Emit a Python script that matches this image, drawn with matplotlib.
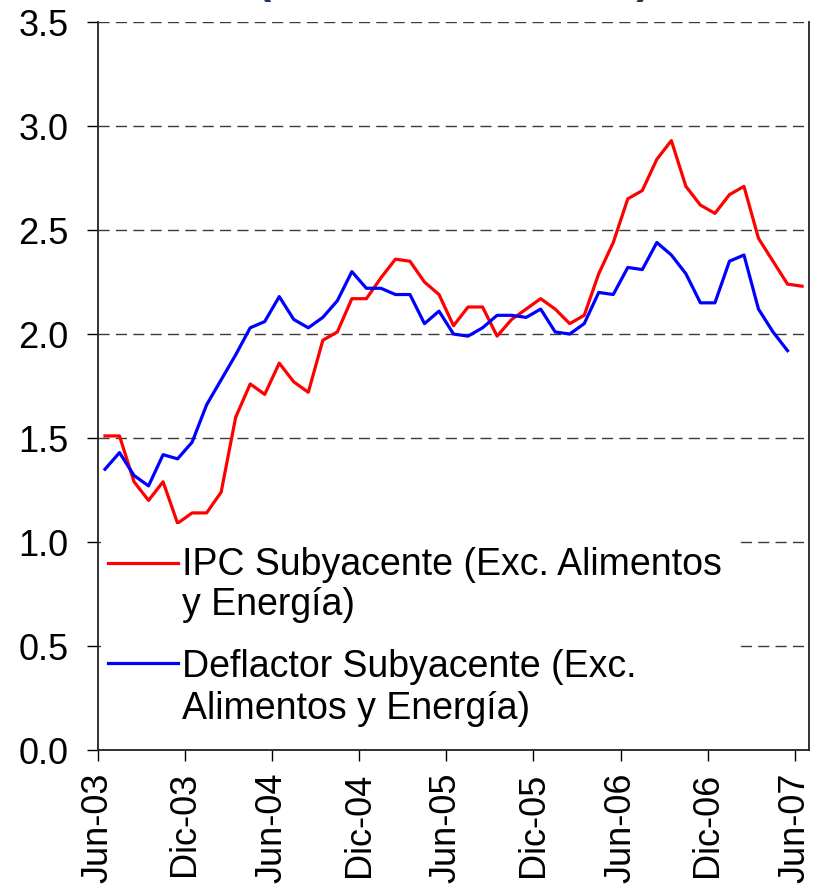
import numpy as np
import matplotlib
matplotlib.use("Agg")
import matplotlib.pyplot as plt

plt.rcParams['font.family'] = ['Liberation Sans', 'DejaVu Sans']

# monthly data, Jun-03 .. Jun-07
ipc = [1.51, 1.51, 1.29, 1.20, 1.29, 1.09, 1.14, 1.14, 1.24, 1.60, 1.76, 1.71, 1.86,
       1.77, 1.72, 1.97, 2.01, 2.17, 2.17, 2.27, 2.36, 2.35, 2.25, 2.19, 2.04,
       2.13, 2.13, 1.99, 2.07, 2.12, 2.17, 2.12, 2.05, 2.09, 2.29, 2.44,
       2.65, 2.69, 2.84, 2.93, 2.71, 2.62, 2.58, 2.67, 2.71, 2.46, 2.35, 2.24, 2.23]
deflactor = [1.35, 1.43, 1.32, 1.27, 1.42, 1.40, 1.48, 1.66, 1.78, 1.90, 2.03, 2.06, 2.18,
             2.07, 2.03, 2.08, 2.16, 2.30, 2.22, 2.22, 2.19, 2.19, 2.05, 2.11, 2.00, 1.99,
             2.03, 2.09, 2.09, 2.08, 2.12, 2.01, 2.00, 2.05, 2.20, 2.19,
             2.32, 2.31, 2.44, 2.38, 2.29, 2.15, 2.15, 2.35, 2.38, 2.12, 2.01, 1.92]
tick_labels = ["Jun-03", "Dic-03", "Jun-04", "Dic-04", "Jun-05",
               "Dic-05", "Jun-06", "Dic-06", "Jun-07"]
label_ipc = ["IPC Subyacente (Exc. Alimentos", "y Energía)"]
label_defl = ["Deflactor Subyacente (Exc.", "Alimentos y Energía)"]

fig = plt.figure(figsize=(8.26, 8.85), dpi=100)
ax = fig.add_axes([0.1183, 0.1525, 0.8615, 0.8226])

# points sit in the middle of each month slot
x_ipc = np.arange(len(ipc)) + 0.5
x_defl = np.arange(len(deflactor)) + 0.5
ax.plot(x_ipc, ipc, color='#FF0000', lw=2.3, zorder=3)
ax.plot(x_defl, deflactor, color='#0000FF', lw=2.3, zorder=3)

ax.set_xlim(0, 49)
ax.set_ylim(0, 3.5)
ax.set_xticks(np.arange(0, 49, 6))
ax.set_xticklabels(tick_labels, rotation=90, fontsize=26)
ax.set_yticks(np.arange(0, 3.51, 0.5))
ax.set_yticklabels(["%.1f" % v for v in np.arange(0, 3.51, 0.5)], fontsize=26)
ax.tick_params(axis='x', direction='out', length=8, width=1, pad=8)
ax.tick_params(axis='y', direction='out', length=8, width=1, pad=13)

ax.yaxis.grid(True, ls=(0, (8, 4.5)), color='#3a3a3a', lw=1.0)
ax.set_axisbelow(True)
for s in ['left', 'bottom', 'right']:
    ax.spines[s].set_linewidth(1.3)
    ax.spines[s].set_color('#222222')
ax.spines['top'].set_visible(False)

# legend drawn by hand so the line sits by the first text row (like the original)
ax.add_patch(plt.Rectangle((0.004, 0.03), 0.896, 0.28, transform=ax.transAxes,
                           facecolor='white', edgecolor='none', zorder=4))
ax.plot([0.0145, 0.113], [0.257, 0.257], color='#FF0000', lw=2.3,
        transform=ax.transAxes, zorder=5)
ax.plot([0.0145, 0.113], [0.1195, 0.1195], color='#0000FF', lw=2.3,
        transform=ax.transAxes, zorder=5)
for txt, yy in zip(label_ipc + label_defl, [0.2404, 0.1854, 0.1003, 0.0426]):
    ax.text(0.118, yy, txt, fontsize=27, va='baseline', ha='left',
            transform=ax.transAxes, zorder=6)

# title is cut off at the top of the picture (only the bracket tails show)
fig.text(0.55, 1.0075, "(Variación % anual)", fontsize=31, fontweight='bold',
         color='#17375E', ha='center', va='baseline')

plt.savefig("out.png", dpi=100)
